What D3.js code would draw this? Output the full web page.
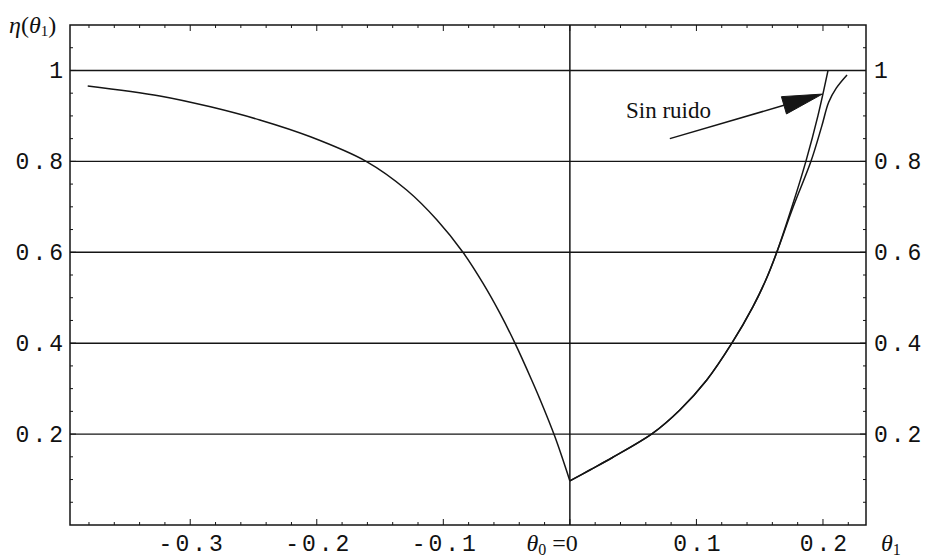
<!DOCTYPE html>
<html>
<head>
<meta charset="utf-8">
<script src="https://cdn.jsdelivr.net/npm/d3@7/dist/d3.min.js"></script>
<style>
  html, body { margin: 0; padding: 0; background: #fff; }
  svg { display: block; }
  .num { font-family: "Liberation Mono", monospace; font-size: 23px; fill: #111; letter-spacing: 3px; }
  .ser { font-family: "Liberation Serif", serif; fill: #111; }
</style>
</head>
<body>
<svg id="chart" width="925" height="558"></svg>
<script>
// Efficiency η(θ1) around the reference angle θ0 = 0

// left branch (θ1 < 0)
const leftTheta = [-0.381, -0.324, -0.284, -0.245, -0.205, -0.161, -0.129, -0.105, -0.0845, -0.0687, -0.0553, -0.0434, -0.0302, -0.0237, -0.0118, 0];
const leftEta   = [0.966, 0.944, 0.920, 0.891, 0.854, 0.800, 0.737, 0.671, 0.600, 0.532, 0.466, 0.400, 0.319, 0.277, 0.194, 0.097];

// right branch without noise ("Sin ruido")
const cleanTheta = [0, 0.0158, 0.034, 0.0656, 0.0869, 0.1082, 0.128, 0.1446, 0.155, 0.1635, 0.1755, 0.1865, 0.196, 0.204];
const cleanEta   = [0.097, 0.121, 0.149, 0.202, 0.253, 0.319, 0.400, 0.480, 0.540, 0.600, 0.700, 0.800, 0.900, 1.000];

// right branch with noise
const noisyTheta = [0, 0.0158, 0.034, 0.0656, 0.0869, 0.1082, 0.128, 0.1446, 0.155, 0.1635, 0.1765, 0.1905, 0.1990, 0.2045, 0.2105, 0.2190];
const noisyEta   = [0.097, 0.121, 0.149, 0.202, 0.253, 0.319, 0.400, 0.480, 0.540, 0.600, 0.700, 0.800, 0.877, 0.930, 0.961, 0.990];

// tick labels
const xTickValues = [-0.3, -0.2, -0.1, 0.1, 0.2];
const xTickLabels = ["-0.3", "-0.2", "-0.1", "0.1", "0.2"];
const yTickValues = [0.2, 0.4, 0.6, 0.8, 1];
const yTickLabels = ["0.2", "0.4", "0.6", "0.8", "1"];

const svg = d3.select("#chart");
const L = 70, R = 866, T = 25, B = 525;

const x = d3.scaleLinear().domain([-0.395, 0.234]).range([L, R]);
const y = d3.scaleLinear().domain([0, 1.1]).range([B, T]);

const ink = "#151515";

// horizontal grid lines
svg.append("g").selectAll("line").data(yTickValues).join("line")
  .attr("x1", L).attr("x2", R)
  .attr("y1", d => y(d)).attr("y2", d => y(d))
  .attr("stroke", ink).attr("stroke-width", 1.4);

// vertical line at θ0 = 0
svg.append("line")
  .attr("x1", x(0)).attr("x2", x(0)).attr("y1", T).attr("y2", B)
  .attr("stroke", ink).attr("stroke-width", 1.5);

// frame ticks
const minorX = d3.range(-0.38, 0.2301, 0.02).map(v => Math.round(v * 100) / 100);
const minorY = d3.range(0.05, 1.0999, 0.05).map(v => Math.round(v * 100) / 100);
const isMajorX = v => Math.abs(v * 10 - Math.round(v * 10)) < 1e-6;
const isMajorY = v => Math.abs(v * 5 - Math.round(v * 5)) < 1e-6;
const ticks = svg.append("g").attr("stroke", ink).attr("stroke-width", 1);
minorX.forEach(v => {
  const len = isMajorX(v) ? 6 : 3;
  ticks.append("line").attr("x1", x(v)).attr("x2", x(v)).attr("y1", B).attr("y2", B - len);
  ticks.append("line").attr("x1", x(v)).attr("x2", x(v)).attr("y1", T).attr("y2", T + len);
});
minorY.forEach(v => {
  const len = isMajorY(v) ? 6 : 3;
  ticks.append("line").attr("x1", L).attr("x2", L + len).attr("y1", y(v)).attr("y2", y(v));
  ticks.append("line").attr("x1", R).attr("x2", R - len).attr("y1", y(v)).attr("y2", y(v));
});

// frame
svg.append("rect")
  .attr("x", L).attr("y", T).attr("width", R - L).attr("height", B - T)
  .attr("fill", "none").attr("stroke", ink).attr("stroke-width", 1.5);

// curves
const line = d3.line().x(d => x(d[0])).y(d => y(d[1])).curve(d3.curveCatmullRom.alpha(0.5));
const series = [
  d3.zip(leftTheta, leftEta),
  d3.zip(cleanTheta, cleanEta),
  d3.zip(noisyTheta, noisyEta)
];
svg.append("g").selectAll("path").data(series).join("path")
  .attr("d", line)
  .attr("fill", "none").attr("stroke", ink).attr("stroke-width", 1.5);

// y tick labels (both sides)
svg.append("g").selectAll("text").data(yTickValues).join("text")
  .attr("class", "num")
  .attr("x", L - 4).attr("y", d => y(d) + 8)
  .attr("text-anchor", "end")
  .text((d, i) => yTickLabels[i]);
svg.append("g").selectAll("text").data(yTickValues).join("text")
  .attr("class", "num")
  .attr("x", R + 8).attr("y", d => y(d) + 8)
  .attr("text-anchor", "start")
  .text((d, i) => yTickLabels[i]);

// x tick labels
svg.append("g").selectAll("text").data(xTickValues).join("text")
  .attr("class", "num")
  .attr("x", d => x(d) + 2).attr("y", 551)
  .attr("text-anchor", "middle")
  .text((d, i) => xTickLabels[i]);

// θ0 = 0 label
const t0 = svg.append("text").attr("class", "ser").attr("x", x(0) + 8).attr("y", 551)
  .attr("text-anchor", "end").attr("font-size", 24);
t0.append("tspan").attr("font-style", "italic").text("θ");
t0.append("tspan").attr("font-size", 16).attr("dy", 4).text("0");
t0.append("tspan").attr("dy", -4).text(" =0");

// θ1 axis title
const t1 = svg.append("text").attr("class", "ser").attr("x", 881).attr("y", 551).attr("font-size", 24);
t1.append("tspan").attr("font-style", "italic").text("θ");
t1.append("tspan").attr("font-size", 16).attr("dy", 4).text("1");

// η(θ1) axis title
const ty = svg.append("text").attr("class", "ser").attr("x", 9).attr("y", 33).attr("font-size", 24);
ty.append("tspan").attr("font-style", "italic").text("η");
ty.append("tspan").text("(");
ty.append("tspan").attr("font-style", "italic").text("θ");
ty.append("tspan").attr("font-size", 15).attr("dy", 3).text("1");
ty.append("tspan").attr("dy", -3).text(")");

// "Sin ruido" annotation with arrow
svg.append("text").attr("class", "ser").attr("x", 626).attr("y", 118)
  .attr("font-size", 23).text("Sin ruido");

const tail = [x(0.079), y(0.85)];
const tip = [x(0.1995), y(0.948)];
const dx = tip[0] - tail[0], dy = tip[1] - tail[1];
const len = Math.hypot(dx, dy), ux = dx / len, uy = dy / len;
const headLen = 40, headHalf = 9;
const base = [tip[0] - ux * headLen, tip[1] - uy * headLen];
svg.append("line")
  .attr("x1", tail[0]).attr("y1", tail[1]).attr("x2", base[0]).attr("y2", base[1])
  .attr("stroke", ink).attr("stroke-width", 1.5);
svg.append("path")
  .attr("d", d3.line()([
    tip,
    [base[0] - uy * headHalf, base[1] + ux * headHalf],
    [base[0] + uy * headHalf, base[1] - ux * headHalf]
  ]) + "Z")
  .attr("fill", ink).attr("stroke", ink).attr("stroke-width", 1);
</script>
</body>
</html>
